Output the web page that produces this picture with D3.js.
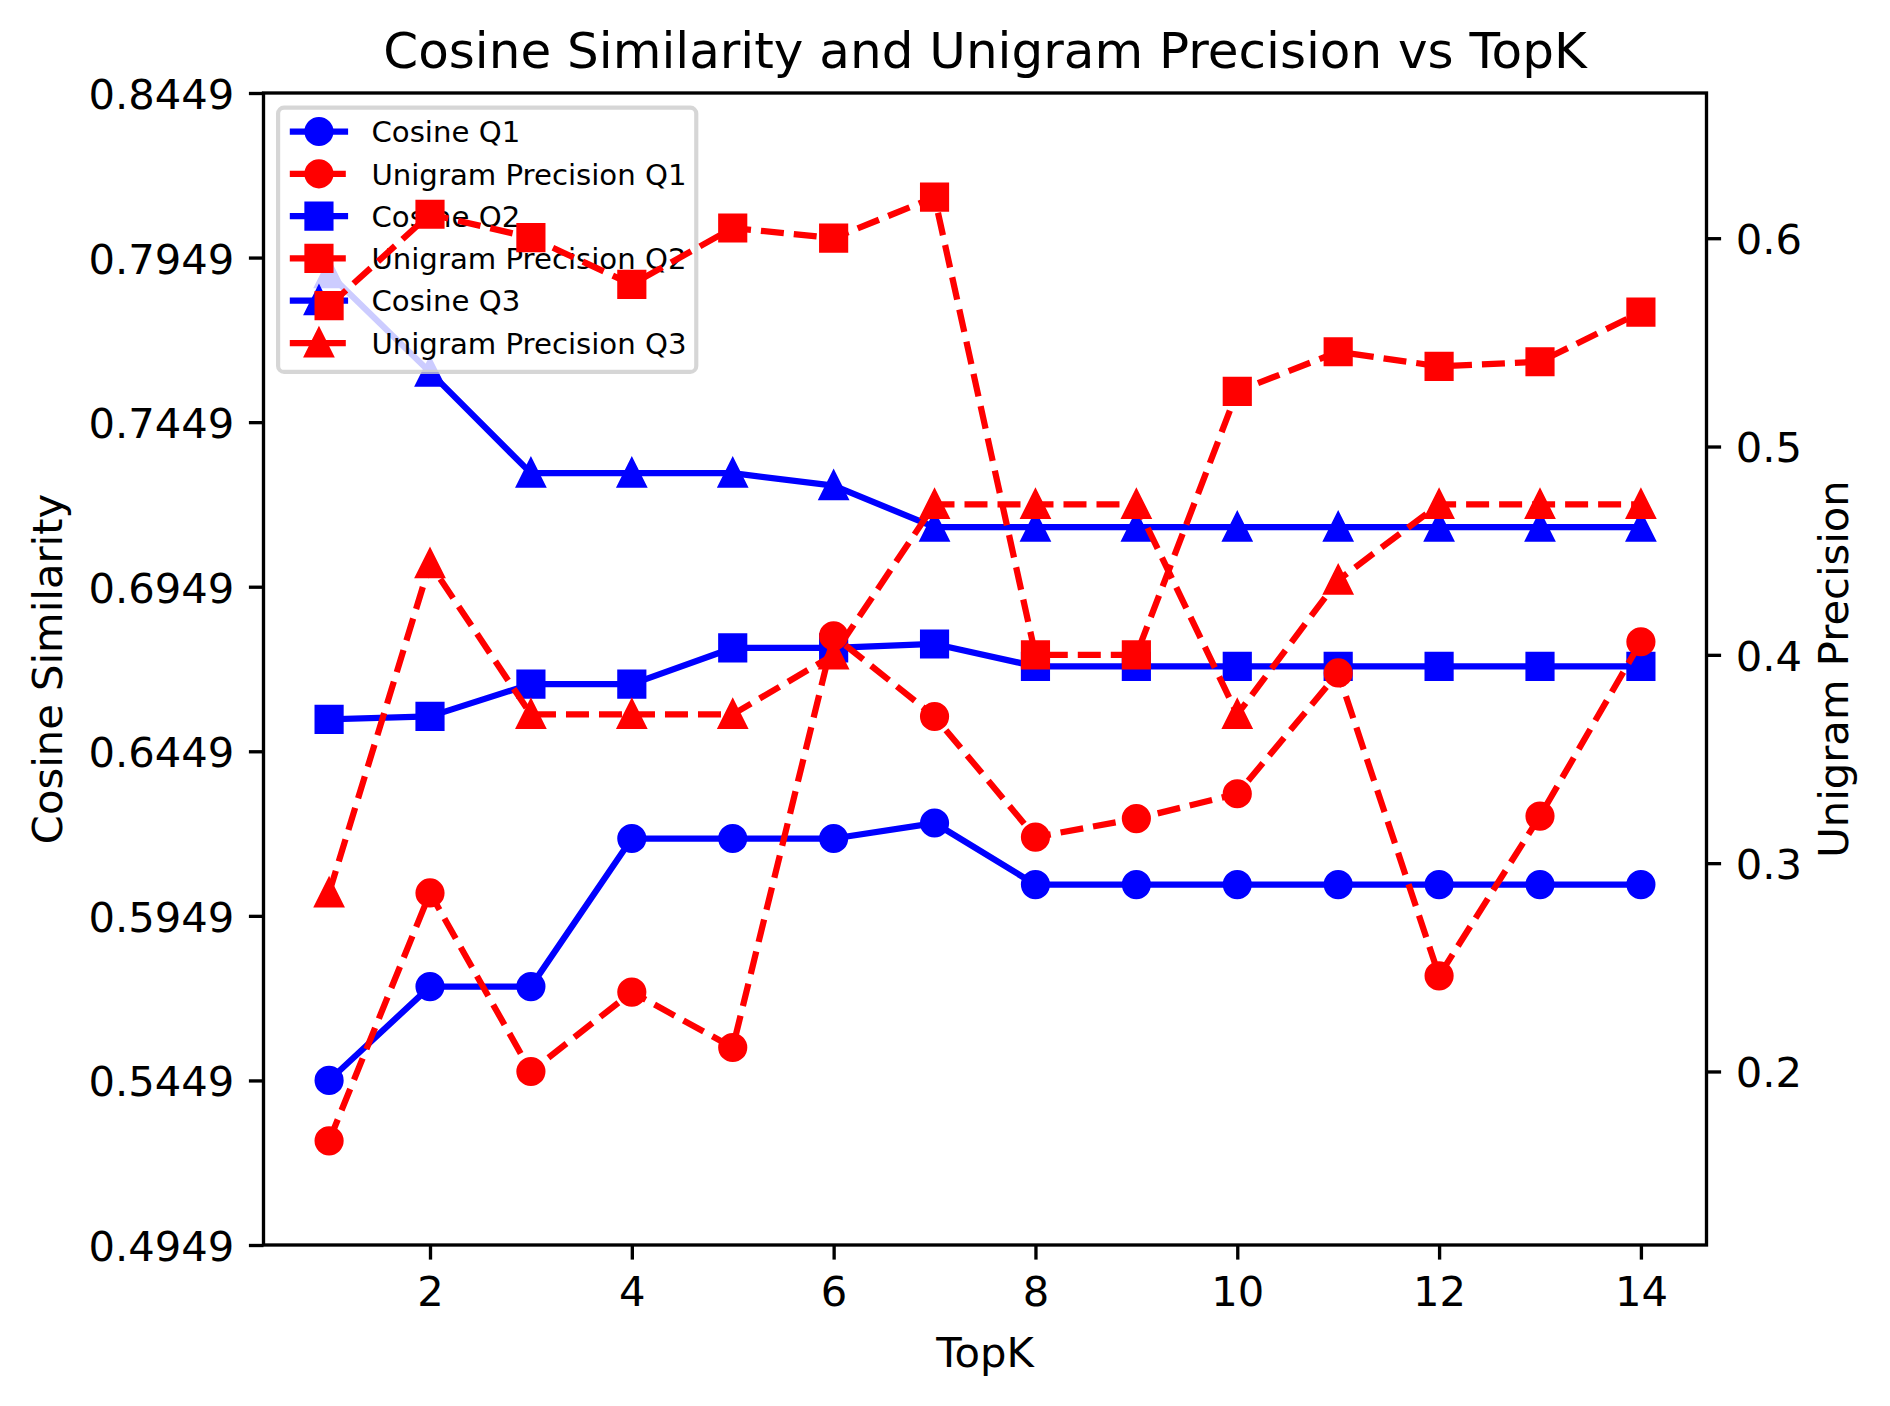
<!DOCTYPE html>
<html>
<head>
<meta charset="utf-8">
<script src="https://cdn.jsdelivr.net/npm/d3@7"></script>
<style>
  html, body { margin: 0; padding: 0; background: #ffffff; }
  svg { display: block; }
  text { font-family: "DejaVu Sans", sans-serif; fill: #000; }
</style>
</head>
<body>
<script>
// ---------------- data ----------------
const topK = [1, 2, 3, 4, 5, 6, 7, 8, 9, 10, 11, 12, 13, 14];

const cosineQ1 = [0.5449, 0.5734, 0.5734, 0.6184, 0.6184, 0.6184, 0.6231, 0.6044, 0.6044, 0.6044, 0.6044, 0.6044, 0.6044, 0.6044];
const cosineQ2 = [0.6546, 0.6555, 0.6653, 0.6653, 0.6763, 0.6763, 0.6775, 0.6707, 0.6707, 0.6707, 0.6707, 0.6707, 0.6707, 0.6707];
const cosineQ3 = [0.7900, 0.7601, 0.7294, 0.7294, 0.7294, 0.7256, 0.7130, 0.7130, 0.7130, 0.7130, 0.7130, 0.7130, 0.7130, 0.7130];

const unigramQ1 = [0.1667, 0.2857, 0.2000, 0.2381, 0.2115, 0.4091, 0.3704, 0.3125, 0.3214, 0.3333, 0.3913, 0.2459, 0.3226, 0.4063];
const unigramQ2 = [0.5676, 0.6115, 0.6003, 0.5778, 0.6049, 0.6000, 0.6197, 0.4000, 0.4000, 0.5265, 0.5455, 0.5385, 0.5407, 0.5645];
const unigramQ3 = [0.2857, 0.4438, 0.3714, 0.3714, 0.3714, 0.4000, 0.4722, 0.4722, 0.4722, 0.3714, 0.4359, 0.4722, 0.4722, 0.4722];

const xTicks = [2, 4, 6, 8, 10, 12, 14];
const leftTicks = [0.4949, 0.5449, 0.5949, 0.6449, 0.6949, 0.7449, 0.7949, 0.8449];
const rightTicks = [0.2, 0.3, 0.4, 0.5, 0.6];

const titleText = "Cosine Similarity and Unigram Precision vs TopK";
const xLabel = "TopK";
const yLabelLeft = "Cosine Similarity";
const yLabelRight = "Unigram Precision";

// ---------------- layout ----------------
const W = 1890, H = 1406;
const PL = 263.5, PR = 1706.5, PT = 93, PB = 1245;
const FONT = 41.7, TITLE_FONT = 50, LEG_FONT = 29.2;
const LW = 6.25, TICK = 14.6, PAD = 14.6, SPINE = 3.33;
const MS = 25, MEW = 4.17;
const DASH = "23,10";
const BLUE = "#0000ff", RED = "#ff0000";

const svg = d3.select("body").append("svg").attr("width", W).attr("height", H);
svg.append("rect").attr("width", W).attr("height", H).attr("fill", "#fff");

const [xmin, xmax] = d3.extent(topK);
const xpad = (xmax - xmin) * 0.05;
const x = d3.scaleLinear().domain([xmin - xpad, xmax + xpad]).range([PL, PR]);
const yL = d3.scaleLinear().domain(d3.extent(leftTicks)).range([PB, PT]);
const allUni = unigramQ1.concat(unigramQ2, unigramQ3);
const yR = d3.scaleLinear().domain([d3.min(allUni) - 0.05, d3.max(allUni) + 0.05]).range([PB, PT]);

svg.append("defs").append("clipPath").attr("id", "plotclip")
  .append("rect").attr("x", PL).attr("y", PT).attr("width", PR - PL).attr("height", PB - PT);

function markerPath(shape) {
  const h = MS / 2;
  if (shape === "circle") return d3.symbol().type(d3.symbolCircle).size(Math.PI * h * h)();
  if (shape === "square") return `M${-h},${-h}H${h}V${h}H${-h}Z`;
  return `M0,${-h}L${h},${h}L${-h},${h}Z`;
}

const series = [
  { name: "Cosine Q1", values: cosineQ1, axis: "L", color: BLUE, dash: null, shape: "circle" },
  { name: "Unigram Precision Q1", values: unigramQ1, axis: "R", color: RED, dash: DASH, shape: "circle" },
  { name: "Cosine Q2", values: cosineQ2, axis: "L", color: BLUE, dash: null, shape: "square" },
  { name: "Unigram Precision Q2", values: unigramQ2, axis: "R", color: RED, dash: DASH, shape: "square" },
  { name: "Cosine Q3", values: cosineQ3, axis: "L", color: BLUE, dash: null, shape: "triangle" },
  { name: "Unigram Precision Q3", values: unigramQ3, axis: "R", color: RED, dash: DASH, shape: "triangle" }
];

function drawSeries(g, s) {
  const ys = s.axis === "L" ? yL : yR;
  const line = d3.line().x((d, i) => x(topK[i])).y(d => ys(d));
  const grp = g.append("g").attr("clip-path", "url(#plotclip)");
  grp.append("path").datum(s.values)
    .attr("d", line)
    .attr("fill", "none")
    .attr("stroke", s.color)
    .attr("stroke-width", LW)
    .attr("stroke-linejoin", "round")
    .attr("stroke-linecap", s.dash ? "butt" : "square")
    .attr("stroke-dasharray", s.dash);
  grp.selectAll("path.mk").data(s.values).enter().append("path")
    .attr("class", "mk")
    .attr("d", markerPath(s.shape))
    .attr("transform", (d, i) => `translate(${x(topK[i])},${ys(d)})`)
    .attr("fill", s.color)
    .attr("stroke", s.color)
    .attr("stroke-width", MEW)
    .attr("stroke-linejoin", "miter");
}

// ---- ax1 (cosine) ----
const ax1 = svg.append("g");
series.filter(s => s.axis === "L").forEach(s => drawSeries(ax1, s));

// ---- legend (belongs to ax1, beneath ax2 lines) ----
const leg = svg.append("g");
const legLeft = PL + 14.6, legTop = PT + 14.6;
const bpad = 11.7, hlen = 58.3, htpad = 23.3, rowH = 42.3;
const frame = leg.append("rect");
const texts = [];
series.forEach((s, i) => {
  const cy = legTop + bpad + 12.2 + i * rowH;
  const hx0 = legLeft + bpad, hx1 = hx0 + hlen;
  leg.append("line").attr("x1", hx0).attr("x2", hx1).attr("y1", cy).attr("y2", cy)
    .attr("stroke", s.color).attr("stroke-width", LW)
    .attr("stroke-dasharray", s.dash);
  leg.append("path").attr("d", markerPath(s.shape))
    .attr("transform", `translate(${(hx0 + hx1) / 2},${cy})`)
    .attr("fill", s.color).attr("stroke", s.color).attr("stroke-width", MEW);
  const t = leg.append("text").attr("x", hx1 + htpad).attr("y", cy + 10.7)
    .attr("font-size", LEG_FONT).text(s.name);
  texts.push(t);
});
const maxTW = d3.max(texts, t => t.node().getComputedTextLength());
const legW = bpad + hlen + htpad + maxTW + bpad - 2;
const legH = bpad * 2 + (series.length - 1) * rowH + 24.4 + 5;
frame.attr("x", legLeft).attr("y", legTop).attr("width", legW).attr("height", legH)
  .attr("rx", 6).attr("ry", 6)
  .attr("fill", "rgba(255,255,255,0.8)")
  .attr("stroke", "rgba(204,204,204,0.8)")
  .attr("stroke-width", 4.17);

// ---- ax2 (unigram) ----
const ax2 = svg.append("g");
series.filter(s => s.axis === "R").forEach(s => drawSeries(ax2, s));

// ---- spines ----
svg.append("rect").attr("x", PL).attr("y", PT).attr("width", PR - PL).attr("height", PB - PT)
  .attr("fill", "none").attr("stroke", "#000").attr("stroke-width", SPINE);

// ---- axes ----
function styleAxis(g, dy) {
  g.select(".domain").remove();
  g.selectAll(".tick line").attr("stroke", "#000").attr("stroke-width", SPINE);
  g.selectAll(".tick text").attr("font-size", FONT).attr("font-family", "DejaVu Sans").attr("fill", "#000").attr("dy", dy);
}
const gx = svg.append("g").attr("transform", `translate(0,${PB})`)
  .call(d3.axisBottom(x).tickValues(xTicks).tickFormat(d3.format("d")).tickSize(TICK).tickPadding(PAD));
styleAxis(gx, "0.76em");

const gyl = svg.append("g").attr("transform", `translate(${PL},0)`)
  .call(d3.axisLeft(yL).tickValues(leftTicks).tickFormat(d => d.toFixed(4)).tickSize(TICK).tickPadding(PAD));
styleAxis(gyl, "0.37em");

const gyr = svg.append("g").attr("transform", `translate(${PR},0)`)
  .call(d3.axisRight(yR).tickValues(rightTicks).tickFormat(d3.format(".1f")).tickSize(TICK).tickPadding(PAD));
styleAxis(gyr, "0.37em");

// ---- labels ----
svg.append("text").attr("x", (PL + PR) / 2).attr("y", 68).attr("text-anchor", "middle")
  .attr("font-size", TITLE_FONT).text(titleText);
svg.append("text").attr("x", (PL + PR) / 2).attr("y", 1367).attr("text-anchor", "middle")
  .attr("font-size", FONT).text(xLabel);
svg.append("text").attr("transform", `translate(62,${(PT + PB) / 2}) rotate(-90)`).attr("text-anchor", "middle")
  .attr("font-size", FONT).text(yLabelLeft);
svg.append("text").attr("transform", `translate(1848,${(PT + PB) / 2}) rotate(-90)`).attr("text-anchor", "middle")
  .attr("font-size", FONT).text(yLabelRight);
</script>
</body>
</html>
